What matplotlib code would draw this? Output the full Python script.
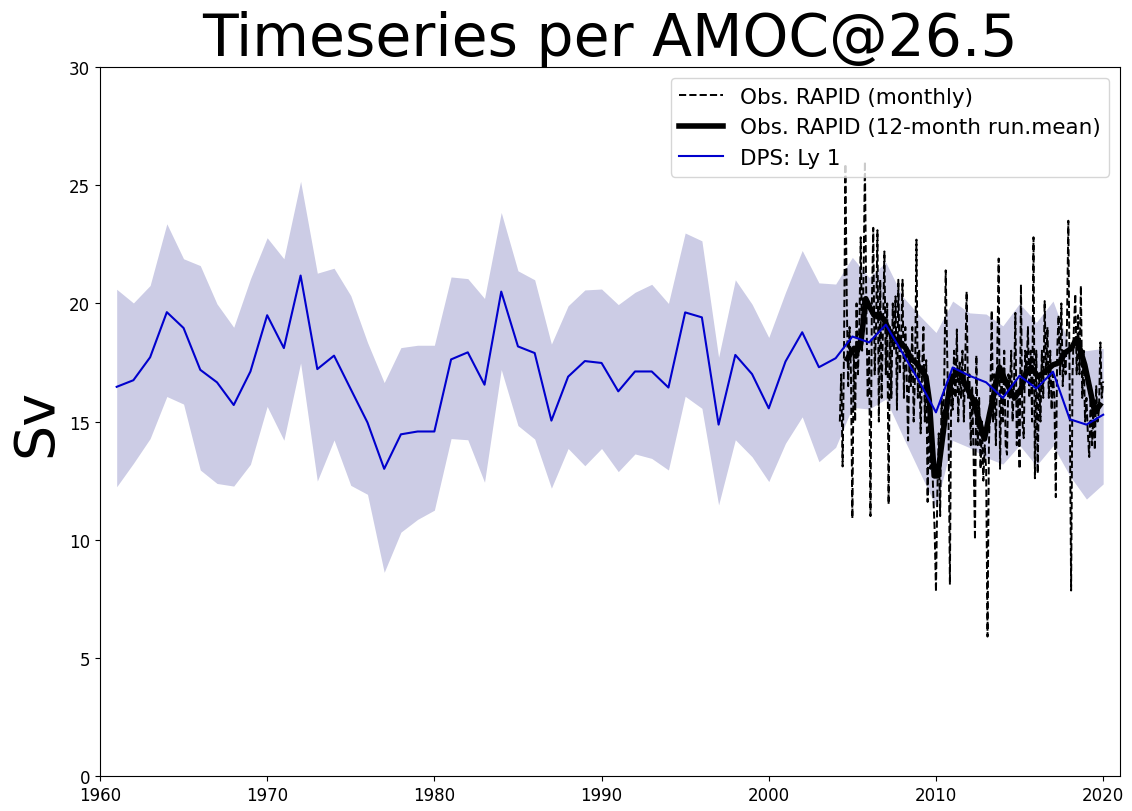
import matplotlib
matplotlib.use("Agg")
import matplotlib.pyplot as plt
import numpy as np

######################
### Data
######################
YEARS = list(range(1961, 2021))

DPS_MEAN = [16.47, 16.75, 17.72, 19.63, 18.96, 17.19, 16.66, 15.70, 17.12, 19.50,
            18.11, 21.18, 17.22, 17.79, 16.37, 14.96, 13.00, 14.46, 14.58, 14.58,
            17.63, 17.93, 16.56, 20.50, 18.18, 17.90, 15.04, 16.90, 17.56, 17.48,
            16.28, 17.12, 17.12, 16.44, 19.62, 19.41, 14.87, 17.82, 17.01, 15.56,
            17.54, 18.78, 17.30, 17.68, 18.60, 18.35, 19.10, 17.90, 16.70, 15.39,
            17.29, 16.94, 16.66, 16.00, 16.94, 16.40, 17.11, 15.10, 14.87, 15.29]

DPS_UPPER = [20.60, 20.02, 20.76, 23.37, 21.89, 21.60, 19.98, 18.99, 21.04, 22.78,
             21.89, 25.17, 21.28, 21.49, 20.33, 18.35, 16.65, 18.13, 18.23, 18.23,
             21.12, 21.05, 20.21, 23.85, 21.38, 21.00, 18.28, 19.90, 20.57, 20.61,
             19.95, 20.47, 20.81, 20.00, 22.98, 22.65, 17.72, 21.00, 19.97, 18.56,
             20.47, 22.24, 20.87, 20.82, 21.95, 21.10, 21.74, 20.30, 19.50, 18.77,
             20.10, 19.60, 19.55, 19.05, 20.00, 19.20, 20.10, 18.20, 18.00, 18.10]

DPS_LOWER = [12.24, 13.23, 14.28, 16.06, 15.74, 12.95, 12.38, 12.27, 13.19, 15.64,
             14.21, 17.48, 12.48, 14.22, 12.30, 11.92, 8.62, 10.32, 10.86, 11.25,
             14.28, 14.23, 12.43, 17.20, 14.83, 14.26, 12.18, 13.86, 13.13, 13.86,
             12.88, 13.63, 13.44, 12.95, 16.07, 15.56, 11.47, 14.23, 13.51, 12.46,
             14.08, 15.20, 13.30, 13.91, 15.60, 15.53, 15.95, 14.40, 12.90, 11.40,
             14.20, 13.90, 13.48, 13.20, 14.00, 13.13, 13.98, 12.71, 11.72, 12.36]

# RAPID monthly, starting April 2004
RAPID_START = 2004.25
RAPID_MONTHLY = [
    15.0, 17.0, 13.1, 18.0, 25.9, 20.0, 16.5, 19.0, 17.0,                      # 2004
    10.9, 18.0, 15.0, 20.0, 17.0, 19.0, 22.8, 18.0, 21.0, 26.0, 20.0, 16.0,    # 2005
    18.0, 11.0, 20.0, 23.2, 17.0, 19.0, 23.1, 15.0, 21.0, 16.0, 19.0, 22.2,    # 2006
    17.0, 20.0, 11.5, 19.0, 16.0, 20.0, 18.0, 20.3, 15.5, 21.0, 17.0, 18.5,    # 2007
    21.0, 16.0, 19.0, 17.0, 14.2, 18.0, 16.5, 19.0, 15.0, 17.0, 22.7, 16.0,    # 2008
    18.0, 14.5, 17.0, 19.0, 15.0, 17.6, 11.6, 16.0, 13.0, 14.0, 12.0, 10.5,    # 2009
    7.8, 12.0, 14.5, 11.0, 16.0, 14.0, 17.0, 21.4, 18.0, 15.0, 8.1, 17.0,      # 2010
    15.5, 18.0, 16.0, 18.9, 15.0, 17.5, 16.0, 18.0, 15.0, 17.5, 20.5, 16.0,    # 2011
    17.0, 14.0, 16.5, 13.5, 10.0, 17.8, 14.0, 16.0, 13.0, 15.0, 12.5, 14.0,    # 2012
    13.0, 5.9, 14.0, 16.0, 19.7, 15.0, 17.0, 14.0, 18.0, 21.9, 13.0, 17.0,     # 2013
    15.0, 18.0, 14.0, 13.6, 17.0, 16.0, 18.0, 15.0, 16.5, 19.6, 14.0, 16.0,    # 2014
    13.0, 20.8, 15.0, 14.3, 18.0, 17.0, 19.0, 16.0, 18.0, 15.0, 22.8, 12.6,    # 2015
    18.0, 12.8, 17.0, 15.0, 18.0, 16.0, 20.1, 17.0, 19.0, 16.0, 18.0, 15.5,    # 2016
    17.0, 16.0, 11.8, 18.0, 19.5, 17.0, 20.0, 16.5, 18.0, 17.0, 19.0, 23.5,    # 2017
    16.0, 7.85, 17.0, 19.0, 20.4, 17.0, 19.5, 17.0, 20.75, 16.0, 18.0, 15.0,   # 2018
    16.0, 14.5, 13.5, 16.0, 14.0, 15.5, 13.8, 16.5, 15.0, 15.5, 18.35, 16.0,   # 2019
    16.7,                                                                      # 2020
]

# 12-month running mean
RUNMEAN_T = [2004.7, 2004.9, 2005.1, 2005.3, 2005.5, 2005.65, 2005.8, 2006.0, 2006.3,
             2006.6, 2006.9, 2007.2, 2007.5, 2007.8, 2008.2, 2008.5, 2008.8, 2009.1,
             2009.4, 2009.6, 2009.8, 2009.9, 2010.1, 2010.3, 2010.5, 2010.8, 2011.0,
             2011.4, 2011.8, 2012.2, 2012.6, 2012.9, 2013.2, 2013.4, 2013.8, 2014.2,
             2014.7, 2015.1, 2015.4, 2015.7, 2016.1, 2016.5, 2017.0, 2017.4, 2017.7,
             2018.1, 2018.4, 2018.6, 2018.9, 2019.2, 2019.5, 2019.8]
RUNMEAN_V = [17.65, 17.9, 18.1, 18.0, 18.3, 19.2, 20.2, 19.9, 19.5,
             19.55, 19.3, 18.85, 18.5, 18.4, 18.1, 17.65, 17.5, 17.2,
             16.9, 15.9, 13.8, 12.7, 12.7, 13.8, 14.9, 16.4, 16.9,
             17.1, 16.5, 15.95, 15.0, 14.26, 15.3, 15.95, 17.3, 16.65,
             16.0, 16.4, 17.1, 17.3, 16.9, 17.1, 17.4, 17.5, 17.9,
             18.1, 18.5, 18.1, 17.4, 16.4, 15.4, 15.7]

######################
### Draw
######################
fig = plt.figure(figsize=(11.32, 8.12), dpi=100)
ax = fig.add_axes([0.0883, 0.0431, 0.901, 0.873])

rapid_t = RAPID_START + np.arange(len(RAPID_MONTHLY)) / 12.0

ax.fill_between(YEARS, DPS_LOWER, DPS_UPPER, color='navy', alpha=0.2, linewidth=0)
ax.plot(rapid_t, RAPID_MONTHLY, '--', color='k', linewidth=1.4, label='Obs. RAPID (monthly)')
ax.plot(RUNMEAN_T, RUNMEAN_V, '-', color='k', linewidth=4, label='Obs. RAPID (12-month run.mean)')
ax.plot(YEARS, DPS_MEAN, '-', color='mediumblue', linewidth=1.5, label='DPS: Ly 1')

ax.set_xlim(1960, 2021)
ax.set_ylim(0, 30)
ax.tick_params(labelsize=12)
ax.set_ylabel('Sv', fontsize=40)
ax.set_title('Timeseries per AMOC@26.5', fontsize=42)
ax.legend(loc='upper right', fontsize=15.5)

plt.savefig('out.png', dpi=100)
